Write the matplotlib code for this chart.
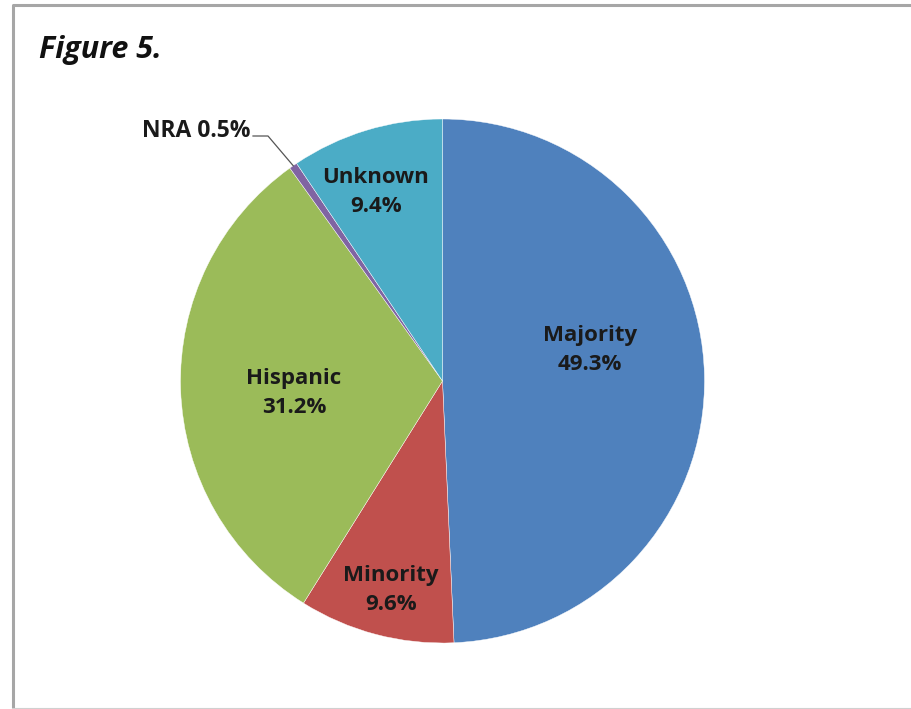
import matplotlib
matplotlib.use("Agg")
import matplotlib.pyplot as plt
import numpy as np

categories = ["Majority", "Minority", "Hispanic", "NRA", "Unknown"]
values = [49.3, 9.6, 31.2, 0.5, 9.4]
pct_labels = ["49.3%", "9.6%", "31.2%", "0.5%", "9.4%"]
colors = ["#4F81BD", "#C0504D", "#9BBB59", "#8064A2", "#4BACC6"]
title = "Figure 5."

W, H = 911, 709
fig = plt.figure(figsize=(W / 100, H / 100), dpi=100)
ax = fig.add_axes([0, 0, 1, 1])
ax.set_xlim(0, W)
ax.set_ylim(0, H)
ax.set_aspect("equal")
ax.axis("off")

cx, cy, r = 442.5, H - 381, 262
wedges, _ = ax.pie(values, colors=colors, startangle=90, counterclock=False,
                   center=(cx, cy), radius=r, frame=True,
                   wedgeprops=dict(linewidth=0.3, edgecolor="white"))
ax.set_xlim(0, W)
ax.set_ylim(0, H)
ax.axis("off")

font = "Open Sans"
# label positions (pixel coords in image)
label_pos = {"Majority": (590, 350), "Minority": (391, 590),
             "Hispanic": (294, 393), "Unknown": (376, 192)}
for cat, pct in zip(categories, pct_labels):
    if cat in label_pos:
        x, y = label_pos[cat]
        ax.text(x, H - y, f"{cat}\n{pct}", ha="center", va="center",
                fontsize=16, fontweight="bold", family=font,
                color="#1a1a1a", linespacing=1.5)

# NRA label with leader line
i = categories.index("NRA")
w = wedges[i]
mid = np.deg2rad((w.theta1 + w.theta2) / 2)
ex, ey = cx + r * np.cos(mid), cy + r * np.sin(mid)
ax.text(251, H - 131, f"{categories[i]} {pct_labels[i]}", ha="right", va="center",
        fontsize=16.5, fontweight="bold", family=font, color="#1a1a1a")
ax.plot([253, 268, ex], [H - 136, H - 136, ey], color="#555555", lw=0.9)

# title
ax.text(39, H - 50, title, ha="left", va="center", fontsize=22,
        fontweight="bold", fontstyle="italic", family=font, color="#111111")

# frame
ax.plot([12.5, 12.5, W + 5], [H - 708, H - 5, H - 5], color="#a6a6a6", lw=2.2,
        solid_capstyle="butt", clip_on=False)
ax.plot([12.5, W + 5], [H - 708.5, H - 708.5], color="#d0d0d0", lw=1.5, clip_on=False)

fig.savefig("out.png", dpi=100)
